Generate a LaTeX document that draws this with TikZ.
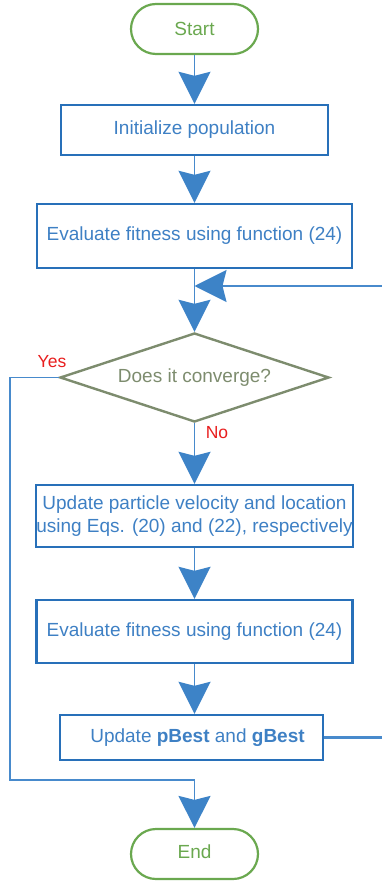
\documentclass[tikz,border=0pt]{standalone}
\usepackage{fontspec}
\setmainfont{Liberation Sans}
\usetikzlibrary{arrows.meta,shapes.geometric}
\definecolor{termgreen}{RGB}{106,168,79}
\definecolor{boxblue}{RGB}{40,112,185}
\definecolor{txtblue}{RGB}{62,128,196}
\definecolor{linkblue}{RGB}{72,138,204}
\definecolor{tipblue}{RGB}{61,131,199}
\definecolor{decgray}{RGB}{125,140,110}
\definecolor{lblred}{RGB}{232,30,30}
\tikzset{
  every node/.style={font=\fontsize{19}{23}\selectfont},
  terminal/.style={draw=termgreen, line width=2.2pt, rounded corners=25pt,
    minimum width=127pt, minimum height=50pt, text=termgreen, inner sep=0pt},
  process/.style={draw=boxblue, line width=2.4pt, text=txtblue, inner sep=0pt,
    align=center},
  decision/.style={draw=decgray, line width=2.4pt, diamond, aspect=3.02,
    minimum width=269pt, minimum height=89pt, inner sep=0pt, text=decgray},
  link/.style={draw=linkblue, line width=1.8pt},
  flow/.style={link, -{Stealth[length=32pt, width=32pt, inset=4pt, fill=tipblue, color=tipblue]}},
  answer/.style={text=lblred, font=\fontsize{17.5}{20}\selectfont}
}
\begin{document}
\begin{tikzpicture}[x=1pt, y=-1pt]
\useasboundingbox (0,0) rectangle (382,882);

% nodes
\node[terminal] (start) at (194.5,29) {Start};
\node[process, minimum width=267pt, minimum height=50pt] (init) at (194.5,130) {\strut Initialize population};
\node[process, minimum width=315pt, minimum height=64pt] (eval1) at (194.5,236) {\strut Evaluate fitness using function (24)};
\node[decision] (dec) at (194.5,377.5) {\strut Does it converge?};
\node[process, minimum width=316pt, minimum height=62pt] (upd) at (194.5,516) {Update particle velocity and location\\using Eqs. (20) and (22), respectively};
\node[process, minimum width=316pt, minimum height=63pt] (eval2) at (194.5,631.5) {\strut Evaluate fitness using function (24)};
\node[process, minimum width=263pt, minimum height=45pt] (best) at (191.5,737.5) {\strut\hspace{12pt}Update \textbf{pBest} and \textbf{gBest}};
\node[terminal] (end) at (194.5,854) {\strut End};

% helper points for the loops
\coordinate (merge) at (194.5,286);
\coordinate (loopR1) at (386,737.5);
\coordinate (loopR2) at (386,286);
\coordinate (yesL1) at (10,377.5);
\coordinate (yesL2) at (10,780);
\coordinate (yesJ) at (194.5,780);

% main flow
\draw[flow] (start) -- (init);
\draw[flow] (init) -- (eval1);
\draw[flow] (eval1) -- (dec);
\draw[flow] (dec) -- (upd);
\draw[flow] (upd) -- (eval2);
\draw[flow] (eval2) -- (eval2 |- best.north);

% loop back to the convergence test
\draw[link, line width=2.2pt] (best.east) -- (loopR1) -- (loopR2);
\draw[flow] (loopR2) -- (merge);

% exit branch
\draw[link] (dec.west) -- (yesL1) -- (yesL2) -- (yesJ);
\draw[flow] (yesJ) -- (end);

% branch labels
\node[answer] (yes) at (52,362) {Yes};
\node[answer] (no) at (217,433) {No};
\end{tikzpicture}
\end{document}
